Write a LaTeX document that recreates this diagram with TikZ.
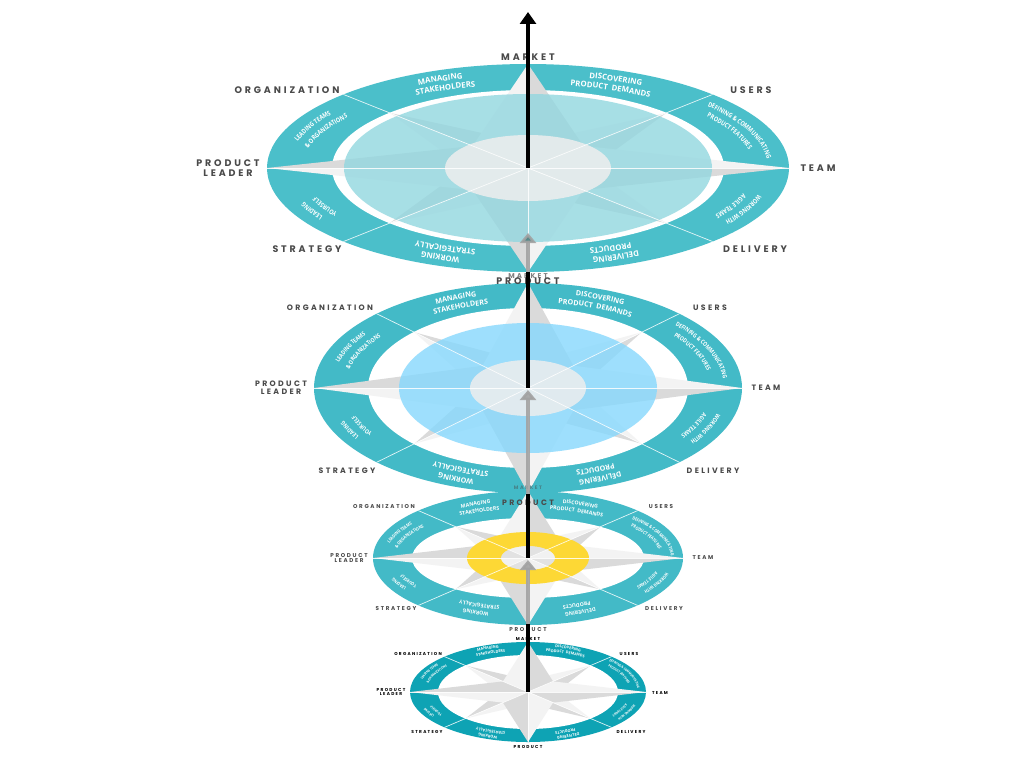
\documentclass[tikz,border=0pt]{standalone}
\usepackage{fontspec}
\setmainfont{Open Sans}
\newfontfamily\labff[LetterSpace=30]{Poppins}
\newfontfamily\ringff[LetterSpace=22]{Open Sans}
\newfontfamily\ringcf[FakeStretch=0.82]{Open Sans}
\usetikzlibrary{decorations.text,arrows.meta}
\definecolor{ringA}{HTML}{4BBFCA}
\definecolor{ringB}{HTML}{43BAC7}
\definecolor{ringD}{HTML}{0EA3B4}
\definecolor{fillA}{HTML}{92D7DF}
\definecolor{fillB}{HTML}{86D8FD}
\definecolor{yel}{HTML}{FDD835}
\definecolor{labc}{HTML}{4A4A4A}
\definecolor{starL}{HTML}{F3F3F3}
\definecolor{starD}{HTML}{DADADA}
\definecolor{cgray}{HTML}{EEEEEE}
\definecolor{arrg}{HTML}{A2A2A2}
\tikzset{
  lab/.style={font=\labff\bfseries\fontsize{#1}{#1}\selectfont,text=labc,inner sep=0pt,align=center},
  divider/.style={white,line width=0.7pt,opacity=0.85},
  blk/.style={line width=3.5pt,black},
  garr/.style={line width=4.5pt,draw=arrg,-{Triangle[length=10pt,width=16pt]}},
}
\newcommand\compassrose[1]{%
  \foreach \a in {45,135,225,315}{%
    \fill[starD] (0,0) -- (\a-45:0.24) -- (\a:#1) -- cycle;
    \fill[starL] (0,0) -- (\a:#1) -- (\a+45:0.24) -- cycle;
  }%
  \foreach \a in {0,90,180,270}{%
    \fill[starD] (0,0) -- (\a-45:0.3) -- (\a:1) -- cycle;
    \fill[starL] (0,0) -- (\a:1) -- (\a+45:0.3) -- cycle;
  }%
}
\newcommand\rt[5]{%
  \path[decorate,decoration={text along path,text align=center,text={|#3|#4}}]
    ({\xa*cos(#1)},{\ya*sin(#1)}) arc[start angle=#1,end angle=#2,x radius=\xa,y radius=\ya];
  \path[decorate,decoration={text along path,text align=center,text={|#3|#5}}]
    ({\xb*cos(#1)},{\yb*sin(#1)}) arc[start angle=#1,end angle=#2,x radius=\xb,y radius=\yb];
}
\newcommand\ringtexts{%
  \pgfmathsetmacro\xa{\RX-\Ha}\pgfmathsetmacro\ya{\RY-\Va}%
  \pgfmathsetmacro\xb{\RX-\Hb}\pgfmathsetmacro\yb{\RY-\Vb}%
  \rt{132}{93}{\rfT}{MANAGING}{STAKEHOLDERS}%
  \rt{87}{48}{\rfT}{DISCOVERING}{PRODUCT DEMANDS}%
  \rt{44}{1}{\rfS}{DEFINING {\&} COMMUNICATING}{PRODUCT FEATURES}%
  \rt{-1}{-44}{\rfS}{WORKING WITH}{AGILE TEAMS}%
  \rt{-48}{-87}{\rfT}{DELIVERING}{PRODUCTS}%
  \rt{-93}{-132}{\rfT}{WORKING}{STRATEGICALLY}%
  \rt{-136}{-179}{\rfS}{LEADING}{YOURSELF}%
  \rt{179}{136}{\rfS}{LEADING TEAMS}{{\&} ORGANIZATIONS}%
}
\newcommand\drawlayer{%
  \begin{scope}[shift={(\cx,\cy)}]
    \fill[\ringcol] (0,0) ellipse[x radius=\RX,y radius=\RY];
    \fill[white] (0,0) ellipse[x radius=\IX,y radius=\IY];
    \begin{scope}[x=\RX pt,y=\RY pt]
      \compassrose{\DT}
    \end{scope}
    \layerfill
    \begin{scope}[x=\RX pt,y=\RY pt]
      \foreach \a in {0,45,...,315}{\draw[divider] (0,0) -- (\a:1);}
    \end{scope}
    \ringtexts
  \end{scope}}
\begin{document}
\begin{tikzpicture}[x=1pt,y=1pt]
\useasboundingbox (0,0) rectangle (1024,-768);
\fill[white] (0,0) rectangle (1024,-768);
% ---------- layer 4 (bottom)
\def\cx{528}\def\cy{-692}\def\RX{118}\def\RY{50}\def\IX{90}\def\IY{37}\def\DT{0.75}
\def\ringcol{ringD}
\def\Ha{8.5}\def\Va{4}\def\Hb{16}\def\Vb{9}
\def\rfT{\ringff\bfseries\fontsize{3.8}{3.8}\selectfont\color{white}}
\def\rfS{\ringcf\bfseries\fontsize{3.3}{3.3}\selectfont\color{white}}
\def\layerfill{}
\drawlayer
% ---------- layer 3
\def\cx{528}\def\cy{-558}\def\RX{155}\def\RY{67}\def\IX{116}\def\IY{40}\def\DT{0.66}
\def\ringcol{ringB}
\def\Ha{12}\def\Va{10.5}\def\Hb{22}\def\Vb{18}
\def\rfT{\ringff\bfseries\fontsize{5.2}{5.2}\selectfont\color{white}}
\def\rfS{\ringcf\bfseries\fontsize{4.5}{4.5}\selectfont\color{white}}
\def\layerfill{\fill[yel,even odd rule] (0,0) ellipse[x radius=61,y radius=26] (0,0) ellipse[x radius=27,y radius=12];
  \fill[cgray,opacity=0.4] (0,0) ellipse[x radius=27,y radius=12];}
\drawlayer
% ---------- layer 2
\def\cx{528}\def\cy{-388}\def\RX{214}\def\RY{105}\def\IX{160}\def\IY{80}\def\DT{0.75}
\def\ringcol{ringB}
\def\Ha{18}\def\Va{10}\def\Hb{31}\def\Vb{19.5}
\def\rfT{\ringff\bfseries\fontsize{7.2}{7.2}\selectfont\color{white}}
\def\rfS{\ringcf\bfseries\fontsize{6}{6}\selectfont\color{white}}
\def\layerfill{\fill[fillB,opacity=0.8] (0,0) ellipse[x radius=129,y radius=65];
  \fill[cgray,opacity=0.85] (0,0) ellipse[x radius=58,y radius=28];}
\drawlayer
% ---------- layer 1 (top)
\def\cx{528}\def\cy{-168}\def\RX{261}\def\RY{104}\def\IX{196}\def\IY{78}\def\DT{0.75}
\def\ringcol{ringA}
\def\Ha{21}\def\Va{11}\def\Hb{35}\def\Vb{20.5}
\def\rfT{\ringff\bfseries\fontsize{7.8}{7.8}\selectfont\color{white}}
\def\rfS{\ringcf\bfseries\fontsize{6.6}{6.6}\selectfont\color{white}}
\def\layerfill{\fill[fillA,opacity=0.8] (0,0) ellipse[x radius=184,y radius=74];
  \fill[cgray,opacity=0.85] (0,0) ellipse[x radius=83,y radius=33];}
\drawlayer
% ---------- labels layer 1
\node[lab=9.5] (m1) at (528,-57) {MARKET};
\node[lab=9.5] (o1) at (287,-90) {ORGANIZATION};
\node[lab=9.5] (p1) at (228,-168) {PRODUCT\\LEADER};
\node[lab=9.5] (s1) at (307,-249) {STRATEGY};
\node[lab=9.5] (u1) at (751,-90) {USERS};
\node[lab=9.5] (t1) at (818,-168) {TEAM};
\node[lab=9.5] (d1) at (755,-249) {DELIVERY};
% ---------- labels layer 2
\node[lab=7,text=labc!70] (m2) at (528,-276) {MARKET};
\node[lab=7.8] (o2) at (330,-308) {ORGANIZATION};
\node[lab=7.8] (p2) at (281,-388) {PRODUCT\\LEADER};
\node[lab=7.8] (s2) at (347,-471) {STRATEGY};
\node[lab=7.8] (u2) at (710,-308) {USERS};
\node[lab=7.8] (t2) at (766,-388) {TEAM};
\node[lab=7.8] (d2) at (713,-471) {DELIVERY};
% ---------- labels layer 3
\node[lab=5,text=labc!50!ringB] (m3) at (528,-488) {MARKET};
\node[lab=5.6] (o3) at (384,-507) {ORGANIZATION};
\node[lab=5.6] (p3) at (349,-558) {PRODUCT\\LEADER};
\node[lab=5.6] (s3) at (396,-609) {STRATEGY};
\node[lab=5.6] (u3) at (661,-507) {USERS};
\node[lab=5.6] (t3) at (703,-558) {TEAM};
\node[lab=5.6] (d3) at (664,-609) {DELIVERY};
\node[lab=5.6] (q3) at (528,-630) {PRODUCT};
% ---------- labels layer 4
\node[lab=4.3,text=black] (m4) at (528,-639) {MARKET};
\node[lab=4.3,text=black] (o4) at (418,-654) {ORGANIZATION};
\node[lab=4.3,text=black] (p4) at (391,-692) {PRODUCT\\LEADER};
\node[lab=4.3,text=black] (s4) at (427,-732) {STRATEGY};
\node[lab=4.3,text=black] (u4) at (629,-654) {USERS};
\node[lab=4.3,text=black] (t4) at (660,-693) {TEAM};
\node[lab=4.3,text=black] (d4) at (631,-732) {DELIVERY};
\node[lab=4.3,text=black] (q4) at (528,-747) {PRODUCT};
% front labels
\node[lab=9.5] (q1) at (528,-281) {PRODUCT};
\node[lab=7.8] (q2) at (528,-503) {PRODUCT};
% ---------- arrows
\coordinate (tp) at (528,-12);
\coordinate (c1) at (528,-168);
\coordinate (c2) at (528,-388);
\coordinate (c3) at (528,-558);
\coordinate (c4) at (528,-692);
\coordinate (b1) at (528,-272);
\coordinate (b2) at (528,-494);
\coordinate (b3) at (528,-624);
\coordinate (h1) at (528,-233);
\coordinate (h2) at (528,-390);
\coordinate (h3) at (528,-560);
\draw[garr,opacity=0.9,-{Triangle[length=10pt,width=16pt,fill=gray!60!teal]}] (b1) -- (h1);
\draw[garr,opacity=0.9] (b2) -- (h2);
\draw[garr,opacity=0.9] (b3) -- (h3);
\draw[blk,-{Triangle[length=12pt,width=16pt]}] (c1) -- (tp);
\draw[blk] (b1) -- (c2);
\draw[blk] (b2) -- (c3);
\draw[blk] (b3) -- (c4);
\end{tikzpicture}
\end{document}
